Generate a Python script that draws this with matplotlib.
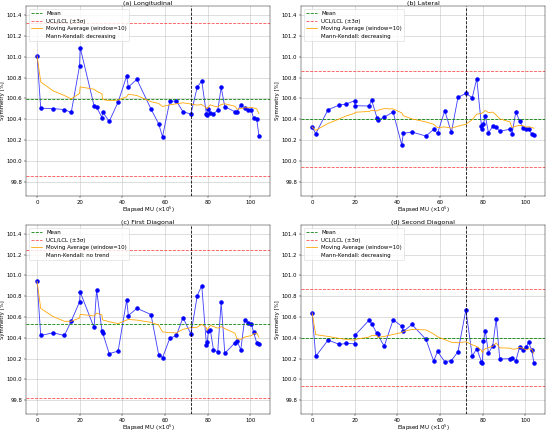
import matplotlib
matplotlib.use("Agg")
import matplotlib.pyplot as plt
import pandas as pd

# ---------------- data ----------------
elapsed_mu = [0, 1.7, 7.5, 12.8, 16.0, 19.9, 20.2, 26.7, 27.9, 30.4, 30.7, 33.8,
              38.0, 42.0, 42.8, 46.8, 53.4, 57.0, 58.8, 62.2, 65.3, 68.4, 72.1,
              75.1, 77.2, 79.4, 79.8, 80.3, 81.2, 82.7, 84.7, 86.3, 88.0, 92.8,
              93.7, 95.5, 97.3, 98.9, 100.4, 101.5, 103.0, 104.0]

longitudinal = [101.01, 100.507, 100.503, 100.494, 100.466, 100.911, 101.088, 100.532,
                100.52, 100.416, 100.474, 100.38, 100.566, 100.815, 100.71, 100.783,
                100.499, 100.358, 100.233, 100.573, 100.576, 100.473, 100.451, 100.71,
                100.767, 100.451, 100.438, 100.502, 100.458, 100.455, 100.486, 100.707,
                100.521, 100.473, 100.473, 100.537, 100.505, 100.493, 100.49, 100.41,
                100.40, 100.243]

lateral = [100.327, 100.263, 100.493, 100.537, 100.547, 100.579, 100.531, 100.528,
           100.585, 100.416, 100.39, 100.422, 100.47, 100.157, 100.266, 100.279,
           100.24, 100.304, 100.266, 100.483, 100.275, 100.611, 100.649, 100.608,
           100.79, 100.339, 100.31, 100.352, 100.435, 100.272, 100.333, 100.33,
           100.285, 100.307, 100.256, 100.47, 100.387, 100.314, 100.307, 100.31,
           100.26, 100.247]

first_diagonal = [100.943, 100.422, 100.448, 100.422, 100.56, 100.745, 100.841, 100.499,
                  100.86, 100.47, 100.45, 100.247, 100.272, 100.764, 100.614, 100.684,
                  100.624, 100.237, 100.208, 100.394, 100.422, 100.595, 100.435, 100.806,
                  100.902, 100.333, 100.362, 100.465, 100.478, 100.282, 100.266, 100.742,
                  100.25, 100.352, 100.368, 100.285, 100.576, 100.547, 100.537, 100.454,
                  100.349, 100.336]

second_diagonal = [100.64, 100.221, 100.378, 100.336, 100.346, 100.342, 100.426, 100.569,
                   100.537, 100.442, 100.435, 100.317, 100.573, 100.512, 100.461, 100.528,
                   100.384, 100.176, 100.269, 100.17, 100.18, 100.266, 100.668, 100.224,
                   100.295, 100.17, 100.16, 100.365, 100.464, 100.253, 100.323, 100.579,
                   100.196, 100.199, 100.205, 100.176, 100.311, 100.279, 100.311, 100.358,
                   100.279, 100.157]

titles = ["(a) Longitudinal", "(b) Lateral", "(c) First Diagonal", "(d) Second Diagonal"]
means = [100.592, 100.403, 100.534, 100.400]
ucls = [101.320, 100.863, 101.250, 100.866]
lcls = [99.862, 99.940, 99.820, 99.934]
trends = ["decreasing", "decreasing", "no trend", "decreasing"]
event_mu = 72.2
window = 10
y_ticks = [99.8, 100.0, 100.2, 100.4, 100.6, 100.8, 101.0, 101.2, 101.4]
x_ticks = [0, 20, 40, 60, 80, 100]

series = [longitudinal, lateral, first_diagonal, second_diagonal]

# ---------------- figure ----------------
W, H = 546, 432
fig = plt.figure(figsize=(W / 39, H / 39), dpi=39)
boxes = [  # left, top, right, bottom in pixels
    (26, 6, 270, 196),
    (301, 6, 545, 196),
    (26, 225, 270, 414),
    (301, 225, 545, 414),
]

for i in range(4):
    l, t, r, b = boxes[i]
    ax = fig.add_axes([l / W, 1 - b / H, (r - l) / W, (b - t) / H])
    y = series[i]
    ma = pd.Series(y).rolling(window, min_periods=1).mean()

    ax.plot(elapsed_mu, y, '-', color='blue', alpha=0.75, linewidth=1.6)
    ax.plot(elapsed_mu, y, 'o', color='blue', markersize=7)
    ax.axhline(means[i], color='green', linestyle='--', linewidth=1.5, label='Mean')
    ax.axhline(ucls[i], color='red', linestyle='--', linewidth=1.5, alpha=0.7,
               label='UCL/LCL (±3σ)')
    ax.axhline(lcls[i], color='red', linestyle='--', linewidth=1.5, alpha=0.7)
    ax.plot(elapsed_mu, ma, color='orange', linewidth=1.5,
            label=f'Moving Average (window={window})')
    ax.plot([], [], ' ', label=f'Mann-Kendall: {trends[i]}')
    ax.axvline(event_mu, color='black', linestyle='--', linewidth=1.5)

    ax.set_ylim(99.666, 101.486)
    ax.set_yticks(y_ticks)
    ax.set_xticks(x_ticks)
    ax.grid(True, color='#b0b0b0', alpha=0.5, linewidth=1.5)
    ax.set_title(titles[i], fontsize=11.5, pad=0.5)
    ax.set_xlabel(r'Elapsed MU ($\times10^5$)', labelpad=0.5)
    ax.set_ylabel('Symmetry [%]', labelpad=2)
    ax.legend(loc='upper left')

fig.savefig('out.png', dpi=39)
